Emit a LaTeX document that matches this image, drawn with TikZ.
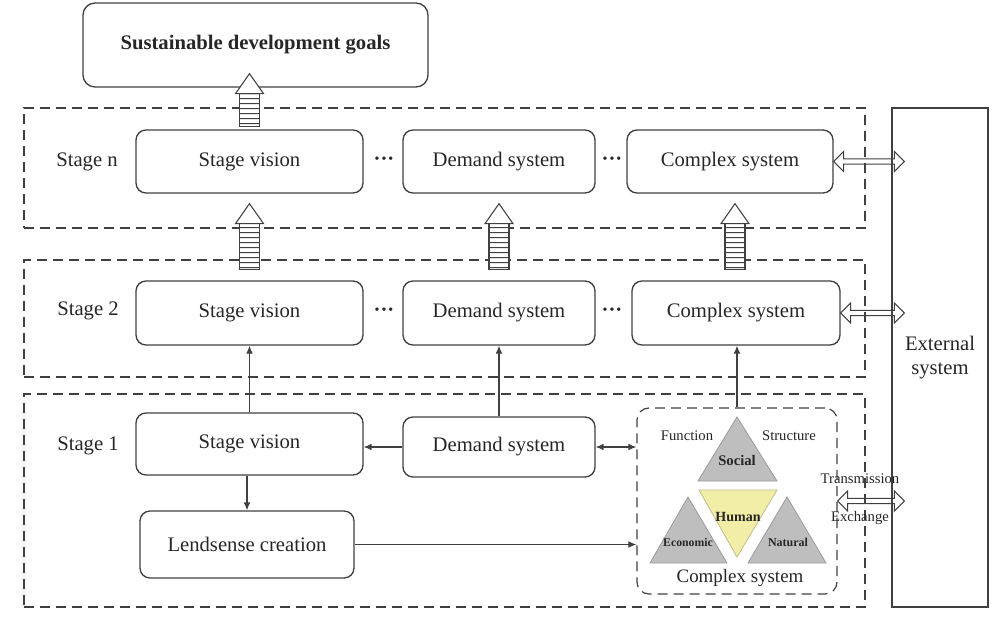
\documentclass[tikz,border=0pt]{standalone}
\usepackage{fontspec}
\setmainfont{Liberation Serif}
\usetikzlibrary{arrows.meta, positioning, calc, patterns.meta}

\definecolor{linec}{HTML}{404040}
\definecolor{textc}{HTML}{262626}
\definecolor{trigray}{HTML}{BEBEBE}
\definecolor{triedge}{HTML}{9A9A9A}
\definecolor{humany}{HTML}{F2EEA8}

% ladder arrow: bottom anchor, top anchor, gap at bottom, tip offset above top
\newcommand\ladder[4]{%
  \draw[ladderbody] let \p1=(#1), \p2=(#2) in
    (\x1-7.5pt,\y1+#3) rectangle (\x1+7.5pt,\y2+#4-13pt);
  \draw[hollow, fill=white] let \p1=(#1), \p2=(#2) in
    (\x1-10.5pt,\y2+#4-15pt) -- (\x1,\y2+#4) -- (\x1+10.5pt,\y2+#4-15pt) -- cycle;
}
% hollow two-way arrow: start anchor, end anchor, overshoot into end node
\newcommand\hollowarrow[3]{%
  \draw[hollow] let \p1=(#1), \p2=(#2) in
    (\x1,\y1) -- ++(7.5pt,7.5pt) -- ++(0,-5.5pt) -- (\x2+#3-7.5pt,\y1+2pt)
    -- ++(0,5.5pt) -- (\x2+#3,\y1) -- ++(-7.5pt,-7.5pt) -- ++(0,5.5pt)
    -- (\x1+7.5pt,\y1-2pt) -- ++(0,-5.5pt) -- cycle;
}

\begin{document}
\begin{tikzpicture}[
  x=0.75pt, y=-0.75pt,
  every node/.style={text=textc, font=\fontsize{15.5}{18}\selectfont},
  box/.style={draw=linec, line width=1pt, rounded corners=7.5pt,
              minimum height=47.25pt, inner sep=2pt, align=center},
  stagebox/.style={draw=linec, line width=0.9pt, dash pattern=on 7.5pt off 4.5pt,
                   minimum width=630.75pt},
  arr/.style={-{Latex[length=6pt,width=5pt]}, line width=0.8pt, draw=linec},
  dblarr/.style={{Latex[length=6pt,width=5pt]}-{Latex[length=6pt,width=5pt]},
                 line width=0.8pt, draw=linec},
  hollow/.style={draw=linec, line width=0.8pt},
  ladderbody/.style={draw=linec, line width=0.8pt, preaction={fill=white},
                     pattern={Lines[angle=0,distance=4pt,line width=1pt]},
                     pattern color=linec},
  small/.style={font=\fontsize{11}{13}\selectfont},
  tri/.style={fill=trigray, draw=triedge, line width=0.6pt},
]
  \useasboundingbox (0,0) rectangle (1008,624);

  % stage frames
  \node[stagebox, minimum height=90pt] (stn) at (444.5,168) {};
  \node[stagebox, minimum height=87.75pt] (st2) at (444.5,318.5) {};
  \node[stagebox, minimum height=159.75pt] (st1) at (444.5,500.5) {};

  \node (labn) at (87,162) {Stage n};
  \node (lab2) at (88,311) {Stage 2};
  \node (lab1) at (88,446) {Stage 1};

  % goal and external system
  \node[box, rounded corners=9pt, minimum width=258.75pt, minimum height=63pt,
        font=\bfseries\fontsize{15.5}{18}\selectfont] (goal) at (255.5,45)
       {Sustainable development goals};
  \node[draw=linec, line width=1pt, minimum width=72pt, minimum height=374.25pt,
        align=center] (ext) at (940,357.5) {External\\system};

  % stage n
  \node[box, minimum width=170.25pt] (svn) at (249.5,161.5) {Stage vision};
  \node[box, minimum width=144pt] (dmn) at (499,161.5) {Demand system};
  \node[box, minimum width=154.5pt] (cxn) at (730,161.5) {Complex system};
  \node (dotn1) at (384,161) {\textbf{···}};
  \node (dotn2) at (612,161) {\textbf{···}};

  % stage 2
  \node[box, minimum width=170.25pt, minimum height=48pt] (sv2) at (249.5,313) {Stage vision};
  \node[box, minimum width=144pt, minimum height=48pt] (dm2) at (499,313) {Demand system};
  \node[box, minimum width=156pt, minimum height=48pt] (cx2) at (736,313) {Complex system};
  \node (dot21) at (384,312) {\textbf{···}};
  \node (dot22) at (612,312) {\textbf{···}};

  % stage 1
  \node[box, minimum width=170.25pt, minimum height=46.5pt] (sv1) at (249.5,444) {Stage vision};
  \node[box, minimum width=144pt, minimum height=45pt] (dm1) at (499,447) {Demand system};
  \node[box, minimum width=160.5pt, minimum height=50.25pt] (ls) at (247,544.5) {Lendsense creation};
  \node[draw=linec, line width=0.9pt, dash pattern=on 7.5pt off 4.5pt, rounded corners=9pt,
        minimum width=150pt, minimum height=139.5pt] (cxbox) at (737,501) {};

  % complex system triangles
  \draw[tri] (737,417) -- (777,481) -- (698,481) -- cycle;
  \draw[tri] (688,497) -- (727,563) -- (650,563) -- cycle;
  \draw[tri] (787,497) -- (826,563) -- (748,563) -- cycle;
  \draw[fill=humany, draw=humany!80!black, line width=0.6pt]
    (699,490) -- (777,490) -- (737,557) -- cycle;
  \node[small] (func) at (687,436) {Function};
  \node[small] (struc) at (789,436) {Structure};
  \node[font=\bfseries\fontsize{11}{13}\selectfont] (soc) at (737,460) {Social};
  \node[font=\bfseries\fontsize{10.5}{12}\selectfont] (hum) at (738,517) {Human};
  \node[font=\bfseries\fontsize{8.8}{10}\selectfont] (eco) at (688,542) {Economic};
  \node[font=\bfseries\fontsize{9}{10}\selectfont] (nat) at (788,542) {Natural};
  \node[font=\fontsize{14.2}{16}\selectfont] (cxlab) at (740,578) {Complex system};

  % connectors
  \draw[arr] (sv1) -- (sv2);
  \draw[arr] (dm1) -- (dm2);
  \draw[arr] (cxbox.north) -- (cxbox.north |- cx2.south);
  \draw[arr] (dm1.west) -- (dm1.west -| sv1.east);
  \draw[arr] (ls.north |- sv1.south) -- (ls.north);
  \draw[arr] (ls.east) -- (ls.east -| cxbox.west);
  \draw[dblarr] (dm1.east) -- (dm1.east -| cxbox.west);

  \ladder{svn.north}{goal.south}{2.25pt}{10.5pt}
  \ladder{sv2.north}{svn.south}{8.25pt}{-7.5pt}
  \ladder{dm2.north}{dmn.south}{8.25pt}{-7.5pt}
  \ladder{[xshift=-0.75pt]cx2.north}{cxn.south}{8.25pt}{-7.5pt}

  \hollowarrow{cxn.east}{ext.west}{9.75pt}
  \hollowarrow{cx2.east}{ext.west}{9.75pt}
  \hollowarrow{cxbox.east}{ext.west}{9.75pt}
  \node[small] (trans) at (860,479) {Transmission};
  \node[small] (exch) at (860,518) {Exchange};
\end{tikzpicture}
\end{document}
